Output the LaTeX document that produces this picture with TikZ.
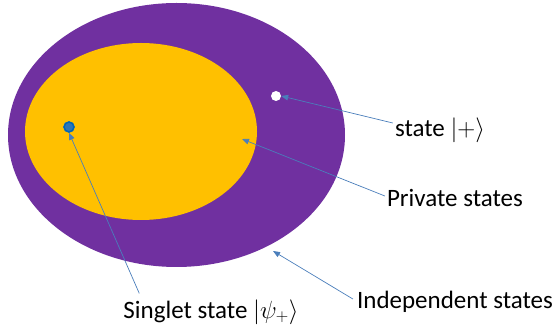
\documentclass[tikz,border=0pt]{standalone}
\usepackage{fontspec}
\setmainfont{Carlito}
\usetikzlibrary{arrows.meta,shapes.geometric}
\definecolor{purp}{HTML}{7030A0}
\definecolor{gold}{HTML}{FFC000}
\definecolor{arr}{HTML}{4A7EBB}
\definecolor{dotblue}{HTML}{2E75B6}
\definecolor{dotring}{HTML}{0066B8}
\tikzset{
  lbl/.style={font=\fontsize{25}{28}\selectfont, inner sep=0pt, anchor=center},
  pointer/.style={draw=arr, line width=0.7pt, -{Triangle[length=7pt,width=5.5pt]}},
}
\begin{document}
\begin{tikzpicture}[x=1pt,y=-1pt]
\useasboundingbox (0,0) rectangle (557,331);
\node[ellipse, fill=purp, minimum width=337pt, minimum height=264pt, inner sep=0pt] (indep) at (176.5,135) {};
\node[ellipse, fill=gold, minimum width=232pt, minimum height=177pt, inner sep=0pt] (priv) at (141,131.5) {};
\node[circle, fill=white, minimum size=10pt, inner sep=0pt] (plus) at (276,96) {};
\node[circle, fill=dotblue, draw=dotring, line width=1.6pt, minimum size=10pt, inner sep=0pt] (psi) at (69,127) {};
\node[lbl] (st) at (440,130) {state $|{+}\rangle$};
\node[lbl] (pv) at (455,198) {Private states};
\node[lbl] (ind) at (455,302) {Independent states};
\node[lbl] (sg) at (211,312) {Singlet state $|\psi_{+}\rangle$};
\coordinate (privpt) at (242,139);
\coordinate (indpt) at (273,251);
\draw[pointer] ([xshift=-2pt,yshift=7pt]st.west) -- (plus.east);
\draw[pointer] ([xshift=-2pt,yshift=2pt]pv.west) -- (privpt);
\draw[pointer] ([xshift=-4pt,yshift=3pt]ind.west) -- (indpt);
\draw[pointer] ([xshift=16pt,yshift=6pt]sg.north west) -- (psi.south);
\end{tikzpicture}
\end{document}
